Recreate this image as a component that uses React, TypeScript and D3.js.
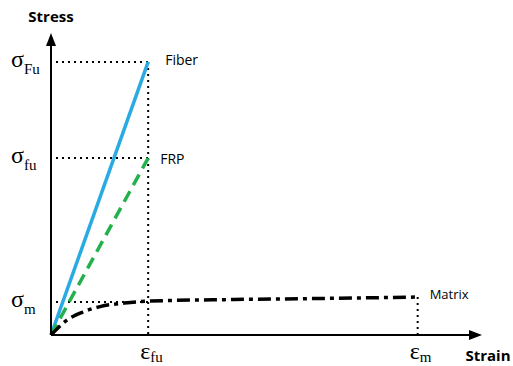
import React from "react";
import * as d3 from "d3";

// strain / stress values (abstract units)
const strainTicks = ["fu", "m"];
const strainValues = [0.265, 1.0];
const stressTicks = ["Fu", "fu", "m"];
const stressValues = [1.0, 0.648, 0.121];

const fiberStrain = [0, 0.265];
const fiberStress = [0, 1.0];
const frpStrain = [0, 0.265];
const frpStress = [0, 0.648];
const matrixStrain = [0, 0.044, 0.087, 0.134, 0.2, 0.265, 0.5, 0.75, 1.0];
const matrixStress = [0, 0.055, 0.084, 0.104, 0.117, 0.124, 0.13, 0.134, 0.139];

const W = 513;
const H = 366;

export default function App() {
  const x = d3.scaleLinear().domain([0, 1.17]).range([51, 480]);
  const y = d3.scaleLinear().domain([0, 1.106]).range([335, 33]);

  const line = d3.line<[number, number]>()
    .x(d => x(d[0]))
    .y(d => y(d[1]));
  const curve = d3.line<[number, number]>()
    .x(d => x(d[0]))
    .y(d => y(d[1]))
    .curve(d3.curveMonotoneX);

  const zip = (a: number[], b: number[]) => a.map((v, i) => [v, b[i]] as [number, number]);

  const x0 = x(0), y0 = y(0);
  const xEnd = x.range()[1], yTop = y.range()[1];
  const mEnd = matrixStrain.length - 1;

  const serif = "'Liberation Serif', 'DejaVu Serif', serif";
  const sans = "'Open Sans', 'Noto Sans', sans-serif";

  return (
    <svg width={W} height={H} style={{position: "absolute", left: 0, top: 0, background: "white"}}>
      {/* guide lines */}
      <g stroke="black" strokeWidth={2} strokeDasharray="2,4" fill="none">
        <line x1={x0 + 5} x2={x(fiberStrain[1])} y1={y(stressValues[0])} y2={y(stressValues[0])} />
        <line x1={x0 + 5} x2={x(frpStrain[1])} y1={y(stressValues[1])} y2={y(stressValues[1])} />
        <line x1={x0 + 5} x2={x(strainValues[0])} y1={y(stressValues[2])} y2={y(stressValues[2])} />
        <line x1={x(strainValues[0])} x2={x(strainValues[0])} y1={y(stressValues[0])} y2={y0} />
        <line x1={x(strainValues[1])} x2={x(strainValues[1])} y1={y(matrixStress[mEnd])} y2={y0} />
      </g>

      {/* curves */}
      <path d={line(zip(fiberStrain, fiberStress)) || ""} stroke="#2aaae2" strokeWidth={3.5} fill="none" />
      <path d={line(zip(frpStrain, frpStress)) || ""} stroke="#22b14c" strokeWidth={3.5} strokeDasharray="12,7" fill="none" />
      <path d={curve(zip(matrixStrain, matrixStress)) || ""} stroke="black" strokeWidth={3.5} strokeDasharray="13,5,4,5" fill="none" />

      {/* axes */}
      <line x1={x0} x2={x0} y1={y0} y2={yTop + 10} stroke="black" strokeWidth={2} />
      <line x1={x0} x2={xEnd - 10} y1={y0} y2={y0} stroke="black" strokeWidth={2} />
      <path d={`M${x0},${yTop} L${x0 - 5},${yTop + 13} L${x0 + 5},${yTop + 13} Z`} fill="black" />
      <path d={`M${xEnd + 2},${y0} L${xEnd - 11},${y0 - 5} L${xEnd - 11},${y0 + 5} Z`} fill="black" />

      {/* axis titles */}
      <text x={x0} y={22} textAnchor="middle" fontFamily={sans} fontWeight="bold" fontSize={15}>Stress</text>
      <text x={488} y={361} textAnchor="middle" fontFamily={sans} fontWeight="bold" fontSize={15}>Strain</text>

      {/* stress tick labels */}
      {stressTicks.map((t, i) => (
        <text key={t} x={11} y={y(stressValues[i]) + 5} fontFamily={serif} fontSize={24}>
          σ<tspan fontSize={15} dy={7}>{t}</tspan>
        </text>
      ))}

      {/* strain tick labels */}
      {strainTicks.map((t, i) => (
        <text key={t} x={x(strainValues[i]) - 8} y={359} fontFamily={serif} fontSize={24}>
          ε<tspan fontSize={15} dy={3}>{t}</tspan>
        </text>
      ))}

      {/* series labels */}
      <text x={x(fiberStrain[1]) + 17} y={y(fiberStress[1]) + 3} fontFamily={sans} fontSize={14}>Fiber</text>
      <text x={x(frpStrain[1]) + 12} y={y(frpStress[1]) + 6} fontFamily={sans} fontSize={14}>FRP</text>
      <text x={x(matrixStrain[mEnd]) + 12} y={y(matrixStress[mEnd]) + 2} fontFamily={sans} fontSize={13}>Matrix</text>
    </svg>
  );
}
